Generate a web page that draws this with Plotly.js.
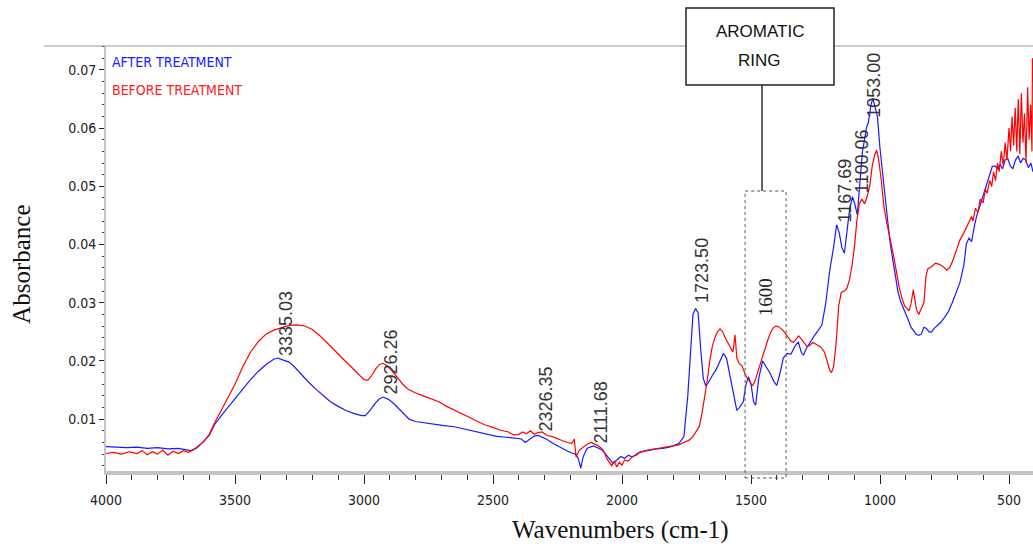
<!DOCTYPE html>
<html>
<head>
<meta charset="utf-8">
<script src="https://cdn.plot.ly/plotly-3.0.1.min.js"></script>
<style>html,body{margin:0;padding:0;background:#fff}#chart{width:1033px;height:546px}</style>
</head>
<body>
<div id="chart"></div>
<script>
// ---- AFTER TREATMENT (blue) ----
const afterWn = [
 4000,3960,3920,3880,3840,3800,3760,3720,3690,3670,
 3650,3630,3600,3580,3550,3520,3500,3470,3440,3410,
 3380,3350,3335,3310,3290,3270,3250,3220,3190,3160,
 3130,3100,3070,3040,3010,2995,2975,2955,2940,2926,
 2905,2885,2865,2845,2825,2800,2770,2730,2690,2650,
 2610,2570,2530,2490,2450,2410,2390,2375,2355,2340,
 2326,2310,2290,2270,2250,2230,2210,2195,2180,2170,
 2160,2150,2135,2111,2095,2080,2065,2050,2035,2020,
 2005,1990,1975,1960,1945,1930,1900,1870,1840,1810,
 1780,1760,1745,1735,1725,1715,1705,1695,1685,1675,
 1665,1650,1635,1620,1607,1595,1580,1565,1555,1545,
 1530,1520,1510,1500,1490,1482,1470,1455,1440,1425,
 1412,1400,1388,1375,1360,1345,1330,1317,1305,1297,
 1285,1270,1255,1240,1225,1210,1195,1180,1168,1158,
 1148,1138,1128,1118,1107,1098,1088,1078,1068,1060,
 1053,1045,1035,1028,1020,1010,1000,990,980,970,
 960,950,940,930,920,910,900,890,880,870,
 860,850,840,830,820,810,800,790,780,765,
 750,735,720,705,690,675,665,655,645,635,
 625,610,595,580,565,555,545,535,525,515,
 505,495,485,475,465,455,445,435,425,415,
 407];
const afterAbs = [
 .0053,.0052,.0051,.0052,.0050,.0051,.0049,.0050,.0047,.0046,
 .0050,.0058,.0072,.0090,.0108,.0124,.0134,.0152,.0168,.0182,
 .0194,.0203,.0205,.0201,.0198,.0190,.0180,.0166,.0153,.0141,
 .0130,.0122,.0115,.0110,.0106,.0106,.0116,.0128,.0135,.0138,
 .0134,.0127,.0118,.0108,.0100,.0096,.0094,.0091,.0089,.0087,
 .0083,.0078,.0074,.0071,.0069,.0067,.0066,.0060,.0066,.0071,
 .0072,.0069,.0065,.0059,.0054,.0050,.0045,.0042,.0040,.0033,
 .0016,.0036,.0050,.0054,.0051,.0048,.0041,.0032,.0024,.0030,
 .0036,.0033,.0038,.0035,.0040,.0044,.0046,.0049,.0050,.0053,
 .0058,.0070,.0140,.0215,.0280,.0290,.0283,.0220,.0170,.0157,
 .0163,.0175,.0185,.0200,.0213,.0205,.0170,.0135,.0115,.0120,
 .0130,.0158,.0173,.0160,.0130,.0124,.0170,.0200,.0190,.0178,
 .0165,.0158,.0178,.0205,.0213,.0212,.0225,.0233,.0215,.0210,
 .0222,.0233,.0243,.0252,.0262,.0300,.0355,.0395,.0434,.0420,
 .0395,.0385,.0420,.0460,.0482,.0470,.0451,.0500,.0560,.0580,
 .0600,.0610,.0640,.0651,.0635,.0620,.0565,.0520,.0480,.0440,
 .0400,.0370,.0340,.0318,.0302,.0292,.0283,.0270,.0258,.0252,
 .0246,.0244,.0246,.0258,.0256,.0250,.0250,.0256,.0260,.0266,
 .0275,.0285,.0300,.0318,.0335,.0365,.0402,.0411,.0405,.0430,
 .0450,.0470,.0490,.0510,.0534,.0535,.0530,.0538,.0530,.0545,
 .0548,.0535,.0530,.0545,.0552,.0540,.0548,.0545,.0532,.0540,
 .0525];

// ---- BEFORE TREATMENT (red) ----
const beforeWn = [
 4000,3970,3940,3910,3880,3860,3840,3820,3800,3780,
 3760,3740,3720,3700,3680,3660,3640,3620,3600,3580,
 3550,3520,3500,3470,3440,3410,3380,3350,3320,3290,
 3260,3230,3200,3170,3140,3110,3080,3050,3020,3000,
 2985,2970,2955,2940,2926,2910,2890,2870,2850,2830,
 2800,2770,2740,2710,2680,2650,2620,2590,2560,2530,
 2500,2470,2440,2420,2400,2385,2370,2355,2340,2326,
 2310,2290,2270,2250,2230,2210,2195,2185,2178,2165,
 2150,2135,2120,2111,2095,2080,2070,2060,2050,2040,
 2030,2020,2010,2000,1990,1975,1960,1945,1930,1900,
 1870,1840,1810,1780,1760,1740,1725,1710,1700,1690,
 1680,1670,1660,1650,1640,1630,1620,1610,1600,1590,
 1580,1570,1562,1555,1545,1535,1525,1515,1505,1495,
 1485,1475,1465,1455,1445,1435,1425,1415,1405,1395,
 1385,1375,1365,1355,1345,1335,1325,1315,1305,1295,
 1285,1275,1260,1245,1230,1215,1205,1195,1188,1180,
 1170,1160,1150,1138,1128,1118,1108,1098,1090,1080,
 1070,1060,1050,1040,1030,1020,1013,1005,995,985,
 975,965,955,945,935,925,915,905,895,888,
 880,871,865,858,850,840,830,822,815,800,
 785,770,755,742,730,720,705,690,675,664,
 655,645,640,630,620,612,600,592,585,575,
 567,560,552,545,538,530,522,515,508,500,
 494,488,482,476,470,464,458,452,446,440,
 434,428,422,416,411,409,407];
const beforeAbs = [
 .0041,.0043,.0040,.0044,.0041,.0046,.0039,.0044,.0040,.0047,
 .0038,.0045,.0041,.0046,.0043,.0048,.0055,.0062,.0074,.0093,
 .0118,.0143,.0160,.0190,.0215,.0233,.0246,.0253,.0257,.0261,
 .0262,.0260,.0254,.0243,.0230,.0216,.0203,.0190,.0176,.0168,
 .0167,.0175,.0186,.0194,.0196,.0192,.0182,.0170,.0160,.0152,
 .0145,.0140,.0135,.0130,.0122,.0116,.0109,.0103,.0096,.0090,
 .0086,.0081,.0078,.0073,.0074,.0078,.0075,.0080,.0074,.0077,
 .0078,.0072,.0070,.0066,.0063,.0060,.0058,.0066,.0035,.0047,
 .0052,.0057,.0060,.0058,.0055,.0050,.0045,.0033,.0026,.0020,
 .0028,.0018,.0026,.0021,.0030,.0028,.0036,.0038,.0043,.0047,
 .0049,.0051,.0053,.0056,.0060,.0064,.0070,.0080,.0088,.0110,
 .0135,.0165,.0200,.0225,.0240,.0250,.0255,.0250,.0240,.0232,
 .0225,.0215,.0245,.0205,.0195,.0192,.0180,.0170,.0165,.0157,
 .0165,.0180,.0195,.0208,.0222,.0236,.0248,.0256,.0260,.0259,
 .0256,.0252,.0246,.0240,.0234,.0232,.0238,.0243,.0238,.0232,
 .0226,.0226,.0232,.0228,.0224,.0215,.0198,.0184,.0180,.0190,
 .0230,.0295,.0318,.0320,.0325,.0340,.0365,.0400,.0440,.0470,
 .0478,.0470,.0482,.0500,.0535,.0555,.0562,.0545,.0510,.0465,
 .0440,.0420,.0400,.0375,.0350,.0325,.0308,.0295,.0290,.0286,
 .0298,.0322,.0305,.0287,.0280,.0290,.0300,.0345,.0358,.0362,
 .0368,.0366,.0362,.0356,.0360,.0370,.0390,.0408,.0420,.0431,
 .0440,.0448,.0440,.0462,.0455,.0478,.0472,.0495,.0488,.0510,
 .0500,.0525,.0510,.0540,.0525,.0560,.0535,.0575,.0545,.0600,
 .0560,.0620,.0570,.0635,.0560,.0650,.0555,.0660,.0575,.0625,
 .0540,.0670,.0580,.0640,.0560,.0720,.0680];

// ---- labels ----
const seriesNames = ['AFTER TREATMENT', 'BEFORE TREATMENT'];
const xTickVals = [4000, 3500, 3000, 2500, 2000, 1500, 1000, 500];
const yTickVals = [0.01, 0.02, 0.03, 0.04, 0.05, 0.06, 0.07];
const peakLabels = ['3335.03', '2926.26', '2326.35', '2111.68', '1723.50', '1167.69', '1100.06', '1053.00'];
const peakWn = [3335.03, 2926.26, 2326.35, 2111.68, 1723.50, 1167.69, 1100.06, 1053.00];
const peakAbs = [0.0205, 0.0138, 0.0076, 0.0055, 0.0296, 0.0434, 0.0485, 0.0614];
const ringBand = [1523, 1364];
const ringBandLabel = '1600';
const boxText = ['AROMATIC', 'RING'];
const xTitle = 'Wavenumbers (cm-1)';
const yTitle = 'Absorbance';

const narrow = 'Liberation Sans Narrow, DejaVu Sans Condensed, Arial Narrow, sans-serif';
const serif = 'Liberation Serif, Times New Roman, serif';
const sans = 'Liberation Sans, Arial, sans-serif';

const traces = [
  {x: afterWn, y: afterAbs, type: 'scatter', mode: 'lines', name: seriesNames[0],
   line: {color: '#1a1aff', width: 1.2}, hoverinfo: 'skip'},
  {x: beforeWn, y: beforeAbs, type: 'scatter', mode: 'lines', name: seriesNames[1],
   line: {color: '#ff0000', width: 1.2}, hoverinfo: 'skip'}
];

const annotations = [];
peakLabels.forEach((t, i) => {
  annotations.push({x: peakWn[i], y: peakAbs[i], xref: 'x', yref: 'y', text: t, showarrow: false,
    textangle: -90, xanchor: 'center', yanchor: 'bottom', xshift: 8,
    font: {family: sans, size: 18, color: '#333'}});
});
annotations.push({x: 0.0043, y: 0.962, xref: 'paper', yref: 'paper', text: seriesNames[0], showarrow: false,
  xanchor: 'left', yanchor: 'middle', font: {family: narrow, size: 14, color: '#2020ff'}});
annotations.push({x: 0.0043, y: 0.896, xref: 'paper', yref: 'paper', text: seriesNames[1], showarrow: false,
  xanchor: 'left', yanchor: 'middle', font: {family: narrow, size: 14, color: '#ff2020'}});
annotations.push({x: (ringBand[0] + ringBand[1]) / 2, y: 0.408, xref: 'x', yref: 'paper', text: ringBandLabel,
  showarrow: false, textangle: -90, xanchor: 'center', yanchor: 'middle',
  font: {family: serif, size: 19, color: '#222'}});
annotations.push({x: 0.7055, y: 1.033, xref: 'paper', yref: 'paper', text: boxText[0], showarrow: false,
  xanchor: 'center', yanchor: 'middle', font: {family: sans, size: 17, color: '#111'}});
annotations.push({x: 0.7055, y: 0.967, xref: 'paper', yref: 'paper', text: boxText[1], showarrow: false,
  xanchor: 'center', yanchor: 'middle', font: {family: sans, size: 17, color: '#111'}});
annotations.push({x: 0.5545, y: -0.139, xref: 'paper', yref: 'paper', text: xTitle, showarrow: false,
  xanchor: 'center', yanchor: 'middle', font: {family: serif, size: 25, color: '#111'}});
annotations.push({x: -0.0906, y: 0.485, xref: 'paper', yref: 'paper', text: yTitle, showarrow: false,
  textangle: -90, xanchor: 'center', yanchor: 'middle', font: {family: serif, size: 25, color: '#111'}});

const shapes = [
  {type: 'line', xref: 'paper', yref: 'paper', x0: -0.0669, x1: 1, y0: 1, y1: 1,
   line: {color: '#9a9a9a', width: 1}, layer: 'above'},
  {type: 'rect', xref: 'paper', yref: 'paper', x0: 0.6257, x1: 0.7853, y0: 0.9082, y1: 1.0894,
   line: {color: '#222', width: 1.5}, fillcolor: '#ffffff', layer: 'above'},
  {type: 'line', xref: 'paper', yref: 'paper', x0: 0.7077, x1: 0.7077, y0: 0.6588, y1: 0.9082,
   line: {color: '#111', width: 1.3}, layer: 'above'},
  {type: 'rect', xref: 'x', yref: 'paper', x0: ringBand[0], x1: ringBand[1], y0: -0.0165, y1: 0.6588,
   line: {color: '#555', width: 1, dash: 'dot'}, fillcolor: 'rgba(0,0,0,0)', layer: 'above'}
];

const layout = {
  width: 1033, height: 546,
  margin: {l: 106, r: 0, t: 46, b: 75, pad: 0},
  paper_bgcolor: '#ffffff', plot_bgcolor: '#ffffff',
  showlegend: false,
  xaxis: {
    range: [4000, 407], tickvals: xTickVals, ticktext: xTickVals.map(String),
    showgrid: false, zeroline: false, showline: true, linecolor: '#c4c4c4', linewidth: 4,
    ticks: 'outside', ticklen: 9, tickwidth: 1, tickcolor: '#222',
    minor: {dtick: 100, tick0: 0, ticks: 'outside', ticklen: 5, tickwidth: 1, tickcolor: '#333', showgrid: false},
    tickfont: {family: narrow, size: 14, color: '#222'}, ticklabelstandoff: 4
  },
  yaxis: {
    range: [0.0011, 0.0741], tickvals: yTickVals, ticktext: yTickVals.map(v => v.toFixed(2)),
    showgrid: false, zeroline: false, showline: true, linecolor: '#c4c4c4', linewidth: 2,
    ticks: 'outside', ticklen: 5, tickwidth: 1, tickcolor: '#222',
    minor: {dtick: 0.002, tick0: 0, ticks: 'outside', ticklen: 2, tickwidth: 1, tickcolor: '#333', showgrid: false},
    tickfont: {family: narrow, size: 14, color: '#222'}
  },
  annotations: annotations,
  shapes: shapes
};

Plotly.newPlot('chart', traces, layout, {displayModeBar: false, staticPlot: true});
</script>
</body>
</html>
